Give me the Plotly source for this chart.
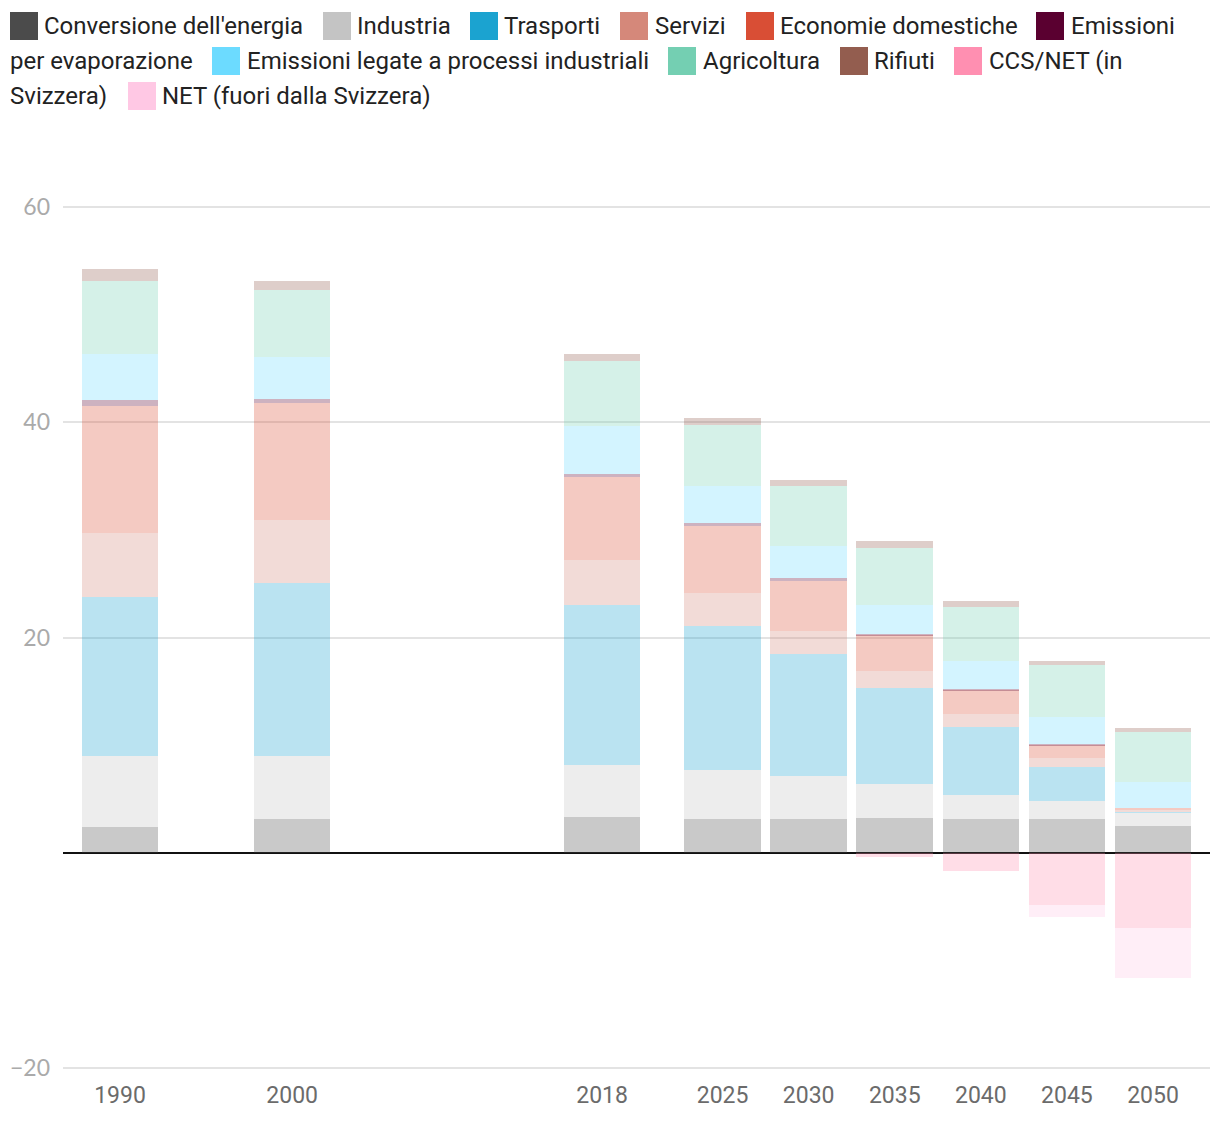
import plotly.graph_objects as go

# ---------------- data ----------------
years = [1990, 2000, 2018, 2025, 2030, 2035, 2040, 2045, 2050]

conversione = [2.4, 3.1, 3.3, 3.1, 3.1, 3.2, 3.1, 3.1, 2.5]
industria = [6.6, 5.9, 4.8, 4.6, 4.0, 3.2, 2.3, 1.7, 1.2]
trasporti = [14.8, 16.1, 14.9, 13.4, 11.4, 8.9, 6.3, 3.2, 0.05]
servizi = [5.9, 5.8, 4.2, 3.0, 2.1, 1.6, 1.2, 0.8, 0.25]
economie = [11.8, 10.9, 7.7, 6.3, 4.7, 3.3, 2.2, 1.2, 0.12]
evaporazione = [0.55, 0.4, 0.3, 0.2, 0.2, 0.15, 0.1, 0.1, 0.0]
processi = [4.3, 3.9, 4.5, 3.5, 3.0, 2.7, 2.6, 2.5, 2.4]
agricoltura = [6.8, 6.2, 6.05, 5.65, 5.6, 5.3, 5.0, 4.8, 4.65]
rifiuti = [1.1, 0.85, 0.65, 0.65, 0.55, 0.65, 0.55, 0.45, 0.45]
ccs_net_ch = [0, 0, 0, 0, 0, -0.4, -1.7, -4.9, -7.0]
net_estero = [0, 0, 0, 0, 0, 0, 0, -1.1, -4.7]

series_names = [
    "Conversione dell'energia", "Industria", "Trasporti", "Servizi",
    "Economie domestiche", "Emissioni per evaporazione",
    "Emissioni legate a processi industriali", "Agricoltura", "Rifiuti",
    "CCS/NET (in Svizzera)", "NET (fuori dalla Svizzera)",
]
series_values = [conversione, industria, trasporti, servizi, economie,
                 evaporazione, processi, agricoltura, rifiuti,
                 ccs_net_ch, net_estero]
series_colors = ["#4b4b4b", "#c4c4c4", "#1ba3d0", "#d5887a", "#d94e35",
                 "#5a0030", "#6cdbff", "#74cfb2", "#935d4f", "#ff8fb1",
                 "#ffc8e4"]

y_ticks = [-20, 20, 40, 60]

# ---------------- layout geometry ----------------
W, H = 1220, 1126
Y_MIN, Y_MAX = -20.12, 60.12
PX_PER_UNIT = 10.7625
ML, MR = 63, 10
MT = round(207 - (Y_MAX - 60) * PX_PER_UNIT)
MB = round(H - 1068 - (-20 - Y_MIN) * PX_PER_UNIT)
PW, PH = W - ML - MR, H - MT - MB


def xp(px):
    return (px - ML) / PW


def yp(py):
    return (H - MB - py) / PH


fig = go.Figure()
for name, vals, col in zip(series_names, series_values, series_colors):
    fig.add_trace(go.Bar(
        x=years, y=vals, name=name, width=4.45,
        marker=dict(color=col, opacity=0.3, line=dict(width=0)),
        showlegend=False,
    ))

# ---------------- custom flowing legend ----------------
FONT = "Roboto"
legend_rows = [
    (26, [(10, 44, "Conversione dell'energia", 0),
          (323, 357, "Industria", 1),
          (470, 504, "Trasporti", 2),
          (620, 655, "Servizi", 3),
          (746, 780, "Economie domestiche", 4),
          (1036, 1071, "Emissioni", 5)]),
    (61, [(None, 10, "per evaporazione", None),
          (212, 247, "Emissioni legate a processi industriali", 6),
          (668, 703, "Agricoltura", 7),
          (840, 874, "Rifiuti", 8),
          (954, 989, "CCS/NET (in", 9)]),
    (96, [(None, 10, "Svizzera)", None),
          (128, 162, "NET (fuori dalla Svizzera)", 10)]),
]
shapes = []
annotations = []
for cy, items in legend_rows:
    for sx, tx, txt, ci in items:
        if sx is not None:
            shapes.append(dict(
                type="rect", xref="paper", yref="paper",
                x0=xp(sx), x1=xp(sx + 28), y0=yp(cy - 14), y1=yp(cy + 14),
                fillcolor=series_colors[ci], line=dict(width=0),
            ))
        annotations.append(dict(
            xref="paper", yref="paper", x=xp(tx - 2), y=yp(cy),
            xanchor="left", yanchor="middle", showarrow=False,
            text=txt, font=dict(family=FONT, size=24, color="#222222"),
        ))

fig.update_layout(
    width=W, height=H,
    margin=dict(l=ML, r=MR, t=MT, b=MB, pad=0),
    barmode="relative",
    bargap=0,
    plot_bgcolor="white", paper_bgcolor="white",
    font=dict(family=FONT),
    shapes=shapes,
    annotations=annotations,
    hovermode=False,
    xaxis=dict(
        range=[1986.69, 2053.31],
        tickmode="array", tickvals=years, ticktext=[str(y) for y in years],
        tickfont=dict(family=FONT, size=23, color="#6b6b6b"),
        showgrid=False, zeroline=False, showline=False, ticks="",
        ticklabelstandoff=10,
        fixedrange=True,
    ),
    yaxis=dict(
        range=[Y_MIN, Y_MAX],
        tickmode="array", tickvals=y_ticks,
        tickfont=dict(family="Lato", size=23, color="#aaaaaa"),
        showgrid=True, gridcolor="#e3e3e3", gridwidth=1.5,
        zeroline=True, zerolinecolor="#111111", zerolinewidth=2,
        showline=False, ticks="", ticklabelstandoff=12,
        fixedrange=True,
    ),
)

fig.write_html("out.html", config={"displayModeBar": False})
